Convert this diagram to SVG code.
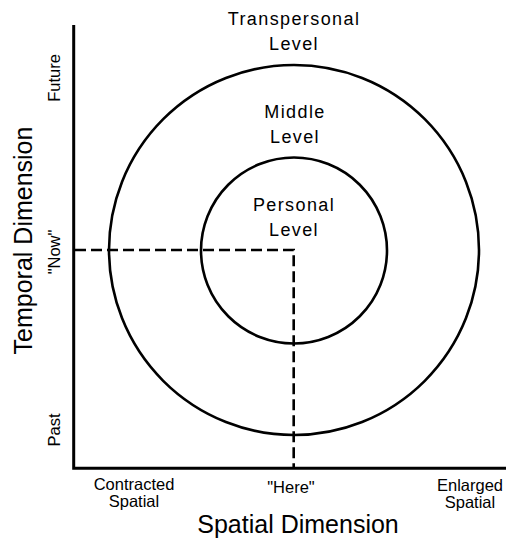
<svg xmlns="http://www.w3.org/2000/svg" width="508" height="538" viewBox="0 0 508 538">
<style>
.lbl{font-family:"Liberation Sans",Arial,sans-serif;fill:#000;text-anchor:middle}
.lvl{font-size:18px;letter-spacing:1.4px}
.sm{font-size:16.5px}
.big{font-size:25px}
.ln{fill:none;stroke:#000}
</style>
<rect width="508" height="538" fill="#fff"/>
<g id="axes">
<path class="ln" d="M73.7,25 V468.3 H506" stroke-width="3"/>
</g>
<g id="outer-circle"><circle class="ln" cx="294" cy="250" r="185" stroke-width="2.6"/></g>
<g id="inner-circle"><circle class="ln" cx="294" cy="250.5" r="93" stroke-width="2.6"/></g>
<g id="connectors">
<path class="ln" d="M75,250 H293.7 V468" stroke-width="2.6" stroke-dasharray="11,5"/>
</g>
<g id="transpersonal"><text class="lbl lvl" x="294" y="25">Transpersonal</text><text class="lbl lvl" x="294" y="50">Level</text></g>
<g id="middle"><text class="lbl lvl" x="295" y="118">Middle</text><text class="lbl lvl" x="295" y="143">Level</text></g>
<g id="personal"><text class="lbl lvl" x="294" y="211">Personal</text><text class="lbl lvl" x="294" y="236">Level</text></g>
<g id="y-labels">
<text class="lbl sm" transform="translate(60,78) rotate(-90)">Future</text>
<text class="lbl sm" transform="translate(60,252) rotate(-90)">"Now"</text>
<text class="lbl sm" transform="translate(60,430) rotate(-90)">Past</text>
<text class="lbl big" transform="translate(32,240.5) rotate(-90)">Temporal Dimension</text>
</g>
<g id="x-labels">
<text class="lbl sm" x="134" y="490">Contracted</text>
<text class="lbl sm" x="134" y="507">Spatial</text>
<text class="lbl sm" x="291" y="493">"Here"</text>
<text class="lbl sm" x="470" y="491">Enlarged</text>
<text class="lbl sm" x="470" y="508">Spatial</text>
<text class="lbl big" x="298" y="533">Spatial Dimension</text>
</g>
</svg>
